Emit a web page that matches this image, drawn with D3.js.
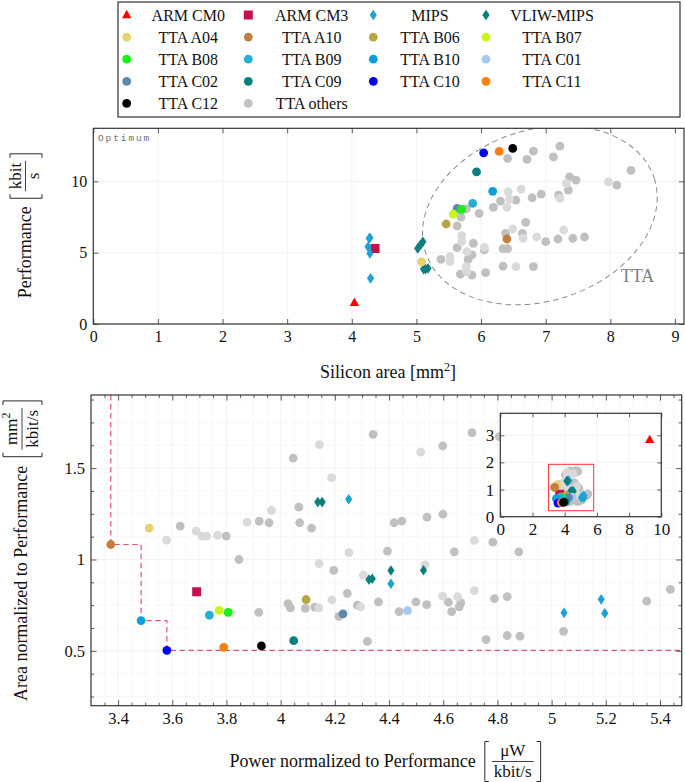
<!DOCTYPE html>
<html><head><meta charset="utf-8">
<script src="https://cdn.jsdelivr.net/npm/d3@7"></script>
<style>body{margin:0;background:#fff} svg{display:block}
svg text{font-family:"Liberation Serif","Times New Roman",serif;}
svg text.mono{font-family:"Liberation Mono","DejaVu Sans Mono",monospace;}</style>
</head><body><svg id="c" width="685" height="782"></svg>
<script>
// ---------------- DATA ----------------
const seriesNames  = ["ARM CM0","ARM CM3","MIPS","VLIW-MIPS","TTA A04","TTA A10","TTA B06","TTA B07","TTA B08","TTA B09","TTA B10","TTA C01","TTA C02","TTA C09","TTA C10","TTA C11","TTA C12","TTA others"];
const seriesColors = ["#ff0000","#c4104c","#1ba2d6","#0c7f7c","#e8d26e","#c27e3e","#b8a642","#c8f51c","#1aef1a","#26afd1","#0e9fd9","#a6c9f2","#5b88ab","#0a7f7f","#0000f5","#ff7f10","#000000","#c2c2c2"];
const seriesShapes = ["triangle","square","diamond","diamond","circle","circle","circle","circle","circle","circle","circle","circle","circle","circle","circle","circle","circle","circle"];

// Top chart: [silicon area mm^2, performance kbit/s]
const areaPerfArmCM0 = [[4.04,1.49]];
const areaPerfArmCM3 = [[4.36,5.30]];
const areaPerfMips   = [[4.28,6.05],[4.27,6.00],[4.25,5.42],[4.28,4.95],[4.29,3.20]];
const areaPerfVliw   = [[5.02,5.30],[5.06,5.54],[5.10,5.77],[5.11,3.85],[5.14,3.85],[5.18,3.90]];
const areaPerfA04 = [[5.08,4.35]];
const areaPerfA10 = [[6.40,5.96]];
const areaPerfB06 = [[5.46,7.01]];
const areaPerfB07 = [[5.57,7.71]];
const areaPerfB08 = [[5.70,8.04]];
const areaPerfB09 = [[5.87,8.46]];
const areaPerfB10 = [[6.18,9.30]];
const areaPerfC01 = [[5.60,7.78]];
const areaPerfC02 = [[5.63,8.11]];
const areaPerfC09 = [[5.93,10.67]];
const areaPerfC10 = [[6.04,12.00]];
const areaPerfC11 = [[6.28,12.10]];
const areaPerfC12 = [[6.49,12.31]];
const areaPerfOthersDark = [[6.41,11.61],[6.71,11.54],[6.81,12.12],[7.12,11.72],[7.22,12.47],[8.32,10.77],[8.10,9.74],[7.47,10.09],[7.37,10.32],[7.35,9.39],[7.20,9.04],[6.93,9.11],[6.79,8.85],[6.54,8.69],[6.30,8.62],[6.19,8.18],[5.97,7.76],[5.77,8.07],[5.69,7.50],[5.63,6.87],[6.69,7.13],[6.64,6.36],[6.38,6.36],[7.00,5.77],[7.19,5.96],[7.42,6.01],[7.60,6.10],[5.88,5.66],[5.63,5.35],[6.05,5.19],[5.86,4.84],[5.80,4.53],[5.38,4.53],[5.68,3.50],[5.86,3.43],[6.07,3.60],[6.34,4.06],[6.81,4.02],[6.34,5.28],[6.41,5.28]];
const areaPerfOthersLight = [[7.97,9.97],[7.32,9.86],[7.22,8.81],[6.62,9.46],[6.42,9.27],[6.44,8.74],[6.40,8.18],[6.49,6.66],[7.28,6.59],[6.86,6.10],[6.65,6.01],[5.70,6.19],[5.70,5.77],[6.05,5.37],[5.78,5.07],[5.52,4.72],[5.52,4.37],[5.77,4.02],[5.78,3.66],[6.54,4.02]];

// Bottom chart: [power / performance, area / performance]
const normArmCM0 = [[9.28,2.83]];
const normArmCM3 = [[3.690,0.823]];
const normMips   = [[4.407,0.867],[5.046,0.708],[5.183,0.782],[5.196,0.706],[4.251,1.330]];
const normVliw   = [[4.137,1.314],[4.153,1.314],[4.326,0.890],[4.338,0.895],[4.407,0.940],[4.527,0.941]];
const normA04 = [[3.515,1.172]];
const normA10 = [[3.373,1.082]];
const normB06 = [[4.094,0.781]];
const normB07 = [[3.773,0.722]];
const normB08 = [[3.806,0.711]];
const normB09 = [[3.737,0.695]];
const normB10 = [[3.485,0.666]];
const normC01 = [[4.468,0.720]];
const normC02 = [[4.230,0.702]];
const normC09 = [[4.048,0.556]];
const normC10 = [[3.580,0.503]];
const normC11 = [[3.790,0.519]];
const normC12 = [[3.929,0.527]];
const normOthersDark = [[4.046,1.555],[4.067,1.287],[3.921,1.210],[3.957,1.201],[4.070,1.201],[4.114,1.172],[3.629,1.183],[3.799,1.128],[3.846,1.000],[4.196,0.940],[4.341,1.685],[4.598,1.621],[4.706,1.694],[4.807,1.672],[4.419,1.201],[4.447,1.210],[4.540,1.232],[4.599,1.248],[4.783,1.095],[4.879,1.042],[4.641,1.042],[4.394,1.046],[4.619,0.766],[4.631,0.715],[4.659,0.741],[4.665,0.763],[4.789,0.786],[4.836,0.797],[4.758,0.562],[4.836,0.584],[4.883,0.580],[5.044,0.607],[5.351,0.772],[5.438,0.836],[4.246,0.815],[4.361,0.768],[4.499,0.768],[4.539,0.753],[4.437,0.715],[4.283,0.750],[4.027,0.759],[4.036,0.735],[4.091,0.732],[4.126,0.739],[3.919,0.711],[4.215,0.689],[4.320,0.552]];
const normOthersLight = [[4.143,1.628],[4.188,1.448],[3.966,1.268],[3.876,1.204],[3.688,1.155],[3.709,1.128],[3.727,1.128],[3.767,1.132],[3.579,1.106],[4.142,0.978],[4.252,1.037],[4.517,1.588],[4.715,1.104],[4.305,0.914],[4.533,0.971],[4.598,0.799],[4.653,0.796],[4.715,0.830],[4.189,0.779],[4.295,0.741],[4.141,0.735],[3.817,0.708]];

// Pareto front (power/perf, area/perf)
const paretoPower = [3.373, 3.485, 3.580];
const paretoArea  = [1.082, 0.666, 0.503];

// Ticks
const topXTicks = [0,1,2,3,4,5,6,7,8,9];
const topYTicks = [0,5,10];
const botXTicks = [3.4,3.6,3.8,4,4.2,4.4,4.6,4.8,5,5.2,5.4];
const botYTicks = [0.5,1,1.5];
const insetXTicks = [0,2,4,6,8,10];
const insetYTicks = [0,1,2,3];
// zoom box shown in the inset (power/perf, area/perf)
const zoomBoxX = [3.0, 5.8];
const zoomBoxY = [0.22, 1.93];
// TTA region ellipse (area, perf centre)
const ttaCenter = [6.91, 7.62];
const ttaRadii  = [1.86, 6.0];

// ---------------- DRAWING ----------------
const FONT = '"Liberation Serif","Times New Roman",serif';
const svg = d3.select("#c").attr("font-family", FONT);
const GRAY_D = "#c0c0c0", GRAY_L = "#dadada";

const topSeries = [
  {d:areaPerfOthersDark, c:GRAY_D, s:"circle"},
  {d:areaPerfOthersLight, c:GRAY_L, s:"circle"},
  {d:areaPerfArmCM0, i:0},{d:areaPerfArmCM3, i:1},{d:areaPerfMips, i:2},{d:areaPerfVliw, i:3},
  {d:areaPerfA04, i:4},{d:areaPerfA10, i:5},{d:areaPerfB06, i:6},{d:areaPerfC01, i:11},{d:areaPerfC02, i:12},
  {d:areaPerfB07, i:7},{d:areaPerfB08, i:8},{d:areaPerfB09, i:9},{d:areaPerfB10, i:10},
  {d:areaPerfC09, i:13},{d:areaPerfC10, i:14},{d:areaPerfC11, i:15},{d:areaPerfC12, i:16}
];
const botSeries = [
  {d:normOthersDark, c:GRAY_D, s:"circle"},
  {d:normOthersLight, c:GRAY_L, s:"circle"},
  {d:normArmCM0, i:0},{d:normArmCM3, i:1},{d:normMips, i:2},{d:normVliw, i:3},
  {d:normA04, i:4},{d:normA10, i:5},{d:normB06, i:6},{d:normC01, i:11},{d:normC02, i:12},
  {d:normB07, i:7},{d:normB08, i:8},{d:normB09, i:9},{d:normB10, i:10},
  {d:normC09, i:13},{d:normC10, i:14},{d:normC11, i:15},{d:normC12, i:16}
];

const shapePath = {
  triangle: "M0,-5.2L4.7,3.2L-4.7,3.2Z",
  square: "M-4.5,-4.5H4.5V4.5H-4.5Z",
  diamond: "M0,-5.3L3.6,0L0,5.3L-3.6,0Z",
  circle: d3.symbol(d3.symbolCircle, Math.PI*4.4*4.4)()
};

function plotSeries(g, list, x, y) {
  list.forEach(sr => {
    const color = sr.c || seriesColors[sr.i];
    const shape = sr.s || seriesShapes[sr.i];
    g.append("g").selectAll("path").data(sr.d).join("path")
      .attr("d", shapePath[shape])
      .attr("transform", d => `translate(${x(d[0])},${y(d[1])})`)
      .attr("fill", color);
  });
}

function fmt(v){ return d3.format("")(+v.toFixed(2)); }

function axes(g, x, y, o) {
  const [x0,x1] = x.range(), [y0,y1] = y.range();
  const grid = g.append("g");
  if (o.xMinor) grid.selectAll(".gxm").data(o.xMinor).join("line")
      .attr("x1", x).attr("x2", x).attr("y1", y0).attr("y2", y1).attr("stroke", "#f4f4f4").attr("stroke-width", 0.6);
  if (o.yMinor) grid.selectAll(".gym").data(o.yMinor).join("line")
      .attr("y1", y).attr("y2", y).attr("x1", x0).attr("x2", x1).attr("stroke", "#f4f4f4").attr("stroke-width", 0.6);
  grid.selectAll(".gx").data(o.xTicks).join("line")
      .attr("x1", x).attr("x2", x).attr("y1", y0).attr("y2", y1).attr("stroke", "#ececec").attr("stroke-width", 0.7);
  grid.selectAll(".gy").data(o.yTicks).join("line")
      .attr("y1", y).attr("y2", y).attr("x1", x0).attr("x2", x1).attr("stroke", "#ececec").attr("stroke-width", 0.7);
}

function frameAxes(g, x, y, o) {
  const [x0,x1] = x.range(), [y0,y1] = y.range();
  const style = s => { s.select(".domain").remove(); s.selectAll("line").attr("stroke", "#333").attr("stroke-width", 0.8);
    s.attr("font-family", FONT).attr("font-size", o.fs).selectAll("text").attr("fill", "#111"); };
  const T = o.tick || 5, t = o.minorTick || 3;
  g.append("g").attr("transform", `translate(0,${y0})`).call(d3.axisBottom(x).tickValues(o.xTicks).tickSize(-T).tickPadding(o.padX).tickFormat(fmt)).call(style);
  g.append("g").attr("transform", `translate(0,${y1})`).call(d3.axisTop(x).tickValues(o.xTicks).tickSize(-T).tickFormat("")).call(style);
  g.append("g").attr("transform", `translate(${x0},0)`).call(d3.axisLeft(y).tickValues(o.yTicks).tickSize(-T).tickPadding(o.padY).tickFormat(fmt)).call(style);
  g.append("g").attr("transform", `translate(${x1},0)`).call(d3.axisRight(y).tickValues(o.yTicks).tickSize(-T).tickFormat("")).call(style);
  if (o.xMinor) {
    g.append("g").attr("transform", `translate(0,${y0})`).call(d3.axisBottom(x).tickValues(o.xMinor).tickSize(-t).tickFormat("")).call(style);
    g.append("g").attr("transform", `translate(0,${y1})`).call(d3.axisTop(x).tickValues(o.xMinor).tickSize(-t).tickFormat("")).call(style);
  }
  if (o.yMinor) {
    g.append("g").attr("transform", `translate(${x0},0)`).call(d3.axisLeft(y).tickValues(o.yMinor).tickSize(-t).tickFormat("")).call(style);
    g.append("g").attr("transform", `translate(${x1},0)`).call(d3.axisRight(y).tickValues(o.yMinor).tickSize(-t).tickFormat("")).call(style);
  }
  g.append("rect").attr("x", x0).attr("y", y1).attr("width", x1-x0).attr("height", y0-y1)
    .attr("fill", "none").attr("stroke", "#333").attr("stroke-width", 1.2);
}

function clip(id, x, y) {
  const [x0,x1] = x.range(), [y0,y1] = y.range();
  svg.append("clipPath").attr("id", id).append("rect").attr("x", x0).attr("y", y1).attr("width", x1-x0).attr("height", y0-y1);
  return "url(#" + id + ")";
}

// fraction label  main [num/den]
function fracLabel(cfg) {
  const g = svg.append("g").attr("transform", `translate(${cfg.x},${cfg.y}) rotate(${cfg.rot||0})`).attr("fill", "#111");
  const main = g.append("text").attr("font-size", cfg.size).text(cfg.main);
  const num = g.append("text").attr("font-size", cfg.fsize).attr("text-anchor", "middle").attr("y", cfg.numDy);
  cfg.num.forEach(p => { const ts = num.append("tspan").text(p[0]); if (p[1]) ts.attr("baseline-shift", "super").attr("font-size", cfg.fsize*0.7); });
  const den = g.append("text").attr("font-size", cfg.fsize).attr("text-anchor", "middle").attr("y", cfg.denDy).text(cfg.den);
  const wm = main.node().getComputedTextLength();
  const wf = Math.max(num.node().getComputedTextLength(), den.node().getComputedTextLength()) + 4;
  const gap = cfg.gap, bw = 4;
  const total = wm + gap + bw + 3 + wf + 3 + bw;
  let cx = -total/2;
  main.attr("x", cx); cx += wm + gap;
  g.append("path").attr("d", `M${cx+bw},${cfg.brTop}H${cx}V${cfg.brBot}H${cx+bw}`).attr("fill", "none").attr("stroke", "#111").attr("stroke-width", 0.9);
  cx += bw + 3;
  num.attr("x", cx + wf/2); den.attr("x", cx + wf/2);
  g.append("line").attr("x1", cx).attr("x2", cx + wf).attr("y1", cfg.lineDy).attr("y2", cfg.lineDy).attr("stroke", "#111").attr("stroke-width", 0.8);
  cx += wf + 3;
  g.append("path").attr("d", `M${cx},${cfg.brTop}H${cx+bw}V${cfg.brBot}H${cx}`).attr("fill", "none").attr("stroke", "#111").attr("stroke-width", 0.9);
}

// ---------- Legend ----------
const legendMarkX = [126.7, 248.3, 373.3, 486];
const legendTextX = [188.3, 311.7, 430, 552];
const leg = svg.append("g");
leg.append("rect").attr("x", 118).attr("y", 2).attr("width", 562).attr("height", 115)
  .attr("fill", "#fff").attr("stroke", "#333").attr("stroke-width", 1.2);
leg.selectAll("g.item").data(seriesNames).join("g").each(function(name, i) {
  const col = i % 4, row = Math.floor(i / 4);
  const yy = 15 + row * 22.1;
  d3.select(this).append("path").attr("d", shapePath[seriesShapes[i]])
    .attr("transform", `translate(${legendMarkX[col]},${yy})`).attr("fill", seriesColors[i]);
  d3.select(this).append("text").attr("x", legendTextX[col]).attr("y", yy + 5.6)
    .attr("text-anchor", "middle").attr("font-size", 16).attr("fill", "#111").text(name);
});

// ---------- Top chart ----------
const xTop = d3.scaleLinear().domain([0, 9.14]).range([93.3, 684]);
const yTop = d3.scaleLinear().domain([0, 13.72]).range([324, 128.3]);
const gTop = svg.append("g");
axes(gTop, xTop, yTop, {xTicks: topXTicks, yTicks: topYTicks});
const cTop = clip("clipTop", xTop, yTop);
const ecx = xTop(ttaCenter[0]), ecy = yTop(ttaCenter[1]);
gTop.append("g").attr("clip-path", cTop).append("ellipse")
  .attr("cx", ecx).attr("cy", ecy)
  .attr("rx", xTop(ttaCenter[0] + ttaRadii[0]) - ecx)
  .attr("ry", ecy - yTop(ttaCenter[1] + ttaRadii[1]))
  .attr("transform", `rotate(-18 ${ecx} ${ecy})`)
  .attr("fill", "none").attr("stroke", "#8a8a8a").attr("stroke-width", 1).attr("stroke-dasharray", "5.5,4");
plotSeries(gTop.append("g").attr("clip-path", cTop), topSeries, xTop, yTop);
frameAxes(gTop, xTop, yTop, {xTicks: topXTicks, yTicks: topYTicks, fs: 16, padX: 7, padY: 6});
gTop.append("text").attr("x", 637.5).attr("y", 281.5).attr("text-anchor", "middle").attr("font-size", 18).attr("fill", "#808080").text("TTA");
gTop.append("text").attr("class", "mono").attr("x", 98).attr("y", 140.5)
  .attr("font-size", 9.5).attr("letter-spacing", 1.9).attr("fill", "#707070").text("Optimum");
const xl = gTop.append("text").attr("x", 388).attr("y", 378).attr("text-anchor", "middle").attr("font-size", 18).attr("fill", "#111");
xl.append("tspan").text("Silicon area [mm");
xl.append("tspan").text("2").attr("baseline-shift", "super").attr("font-size", 12);
xl.append("tspan").text("]");
fracLabel({x: 31, y: 226, rot: -90, main: "Performance", num: [["kbit"]], den: "s", size: 18, fsize: 17,
  gap: 8, lineDy: -5.5, numDy: -10, denDy: 7.5, brTop: -21, brBot: 11});

// ---------- Bottom chart ----------
const xBot = d3.scaleLinear().domain([3.3, 5.48]).range([91, 681.7]);
const yBot = d3.scaleLinear().domain([0.2, 1.9]).range([705.7, 395]);
const botXMinor = d3.range(3.35, 5.48, 0.05).filter(v => Math.abs(v*5 - Math.round(v*5)) > 1e-6);
const botYMinor = d3.range(0.25, 1.9, 0.125).filter(v => Math.abs(v*2 - Math.round(v*2)) > 1e-6);
const gBot = svg.append("g");
axes(gBot, xBot, yBot, {xTicks: botXTicks, yTicks: botYTicks, xMinor: botXMinor, yMinor: botYMinor});
const cBot = clip("clipBot", xBot, yBot);
const paretoPts = [[paretoPower[0], yBot.domain()[1]]].concat(paretoPower.map((p, i) => [p, paretoArea[i]]), [[xBot.domain()[1], paretoArea[paretoArea.length-1]]]);
gBot.append("path").attr("clip-path", cBot)
  .attr("d", d3.line().x(d => xBot(d[0])).y(d => yBot(d[1])).curve(d3.curveStepAfter)(paretoPts))
  .attr("fill", "none").attr("stroke", "#dd5584").attr("stroke-width", 1.2).attr("stroke-dasharray", "5.5,3.5");
plotSeries(gBot.append("g").attr("clip-path", cBot), botSeries, xBot, yBot);
frameAxes(gBot, xBot, yBot, {xTicks: botXTicks, yTicks: botYTicks, xMinor: botXMinor, yMinor: botYMinor, fs: 16.5, padX: 7, padY: 6, tick: 5.5, minorTick: 3});

fracLabel({x: 385, y: 766.5, rot: 0, main: "Power normalized to Performance", num: [["μW"]], den: "kbit/s", size: 18, fsize: 17,
  gap: 9, lineDy: -5, numDy: -10.5, denDy: 10.5, brTop: -25, brBot: 15});
fracLabel({x: 27, y: 551, rot: -90, main: "Area normalized to Performance", num: [["mm"],["2", true]], den: "kbit/s", size: 18, fsize: 17,
  gap: 9, lineDy: -5, numDy: -10, denDy: 10.5, brTop: -24, brBot: 15});

// ---------- Inset ----------
const xIn = d3.scaleLinear().domain([0, 10]).range([500.3, 661.3]);
const yIn = d3.scaleLinear().domain([0, 3.81]).range([516.7, 413.3]);
const gIn = svg.append("g");
gIn.append("rect").attr("x", 500.3).attr("y", 413.3).attr("width", 161).attr("height", 103.4).attr("fill", "#fff");
axes(gIn, xIn, yIn, {xTicks: insetXTicks, yTicks: insetYTicks});
const cIn = clip("clipIn", xIn, yIn);
plotSeries(gIn.append("g").attr("clip-path", cIn), botSeries, xIn, yIn);
gIn.append("rect").attr("x", xIn(zoomBoxX[0])).attr("y", yIn(zoomBoxY[1]))
  .attr("width", xIn(zoomBoxX[1]) - xIn(zoomBoxX[0])).attr("height", yIn(zoomBoxY[0]) - yIn(zoomBoxY[1]))
  .attr("fill", "none").attr("stroke", "#ff3030").attr("stroke-width", 1);
frameAxes(gIn, xIn, yIn, {xTicks: insetXTicks, yTicks: insetYTicks, fs: 17, padX: 6, padY: 6, tick: 4});
</script></body></html>
